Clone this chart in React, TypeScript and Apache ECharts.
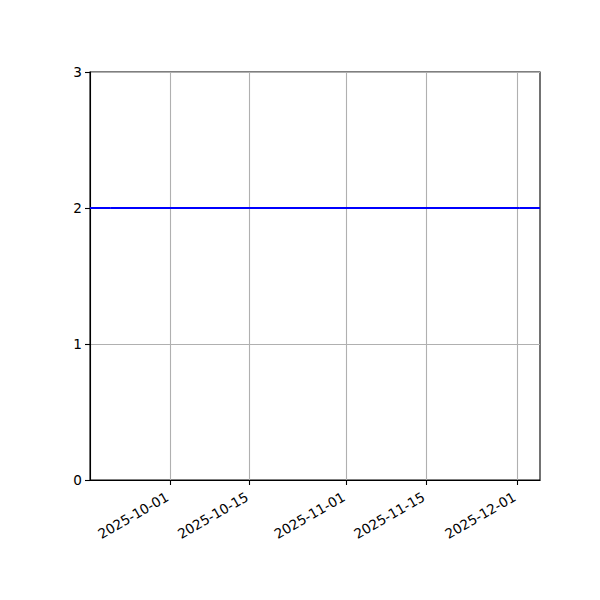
import React, { useEffect, useRef } from "react";
import * as echarts from "echarts";

const dates = ["2025-09-20T12:00:00", "2025-12-01T12:00:00"];
const values = [2, 2];
const tickDates = ["2025-10-01", "2025-10-15", "2025-11-01", "2025-11-15", "2025-12-01"];
const xMinDate = "2025-09-16T23:00:00";
const xMaxDate = "2025-12-05T01:00:00";
const yTicks = [0, 1, 2, 3];

const ts = (s: string) => new Date(s.length === 10 ? s + "T00:00:00" : s).getTime();
const pad = (n: number) => (n < 10 ? "0" + n : "" + n);
const fmt = (v: number) => {
  const d = new Date(v);
  return d.getFullYear() + "-" + pad(d.getMonth() + 1) + "-" + pad(d.getDate());
};

export default function App() {
  const ref = useRef<HTMLDivElement>(null);
  useEffect(() => {
    if (!ref.current) return;
    const chart = echarts.init(ref.current, null, { renderer: "svg" });
    const tickTs = tickDates.map(ts);
    chart.setOption({
      animation: false,
      backgroundColor: "#ffffff",
      textStyle: { fontFamily: "DejaVu Sans" },
      grid: {
        left: 90,
        right: 60,
        top: 72,
        bottom: 120,
        show: true,
        borderColor: "#000",
        borderWidth: 1.1,
        backgroundColor: "transparent",
      },
      xAxis: {
        type: "value",
        min: ts(xMinDate),
        max: ts(xMaxDate),
        scale: true,
        axisLine: { show: true, onZero: false, lineStyle: { color: "#000", width: 1.1 } },
        axisTick: {
          show: true,
          inside: false,
          length: 5,
          lineStyle: { color: "#000", width: 1.1 },
          customValues: tickTs,
        },
        axisLabel: {
          customValues: tickTs,
          rotate: 30,
          color: "#000",
          fontSize: 13.6,
          fontFamily: "DejaVu Sans",
          margin: 14,
          padding: [0, 3, 0, 0],
          formatter: (v: number) => fmt(v),
        },
        splitLine: { show: true, lineStyle: { color: "#b0b0b0", width: 1.1 } },
      },
      yAxis: {
        type: "value",
        min: yTicks[0],
        max: yTicks[yTicks.length - 1],
        interval: 1,
        axisLine: { show: true, lineStyle: { color: "#000", width: 1.1 } },
        axisTick: { show: true, length: 5, lineStyle: { color: "#000", width: 1.1 } },
        axisLabel: { color: "#000", fontSize: 13.6, fontFamily: "DejaVu Sans", margin: 8 },
        splitLine: { show: true, lineStyle: { color: "#b0b0b0", width: 1.1 } },
      },
      series: [
        {
          type: "line",
          data: dates.map((d, i) => [ts(d), values[i]]),
          showSymbol: false,
          lineStyle: { color: "#0000ff", width: 2 },
        },
        {
          type: "line",
          data: [
            [ts(xMinDate), values[0]],
            [ts(dates[0]), values[0]],
          ],
          showSymbol: false,
          lineStyle: { color: "#0000ff", width: 2 },
          silent: true,
        },
        {
          type: "line",
          data: [
            [ts(dates[1]), values[1]],
            [ts(xMaxDate), values[1]],
          ],
          showSymbol: false,
          lineStyle: { color: "#0000ff", width: 2 },
          silent: true,
        },
      ],
    });
    return () => chart.dispose();
  }, []);
  return (
    <div
      ref={ref}
      style={{ position: "fixed", left: 0, top: 0, width: 600, height: 600, background: "#fff" }}
    />
  );
}
